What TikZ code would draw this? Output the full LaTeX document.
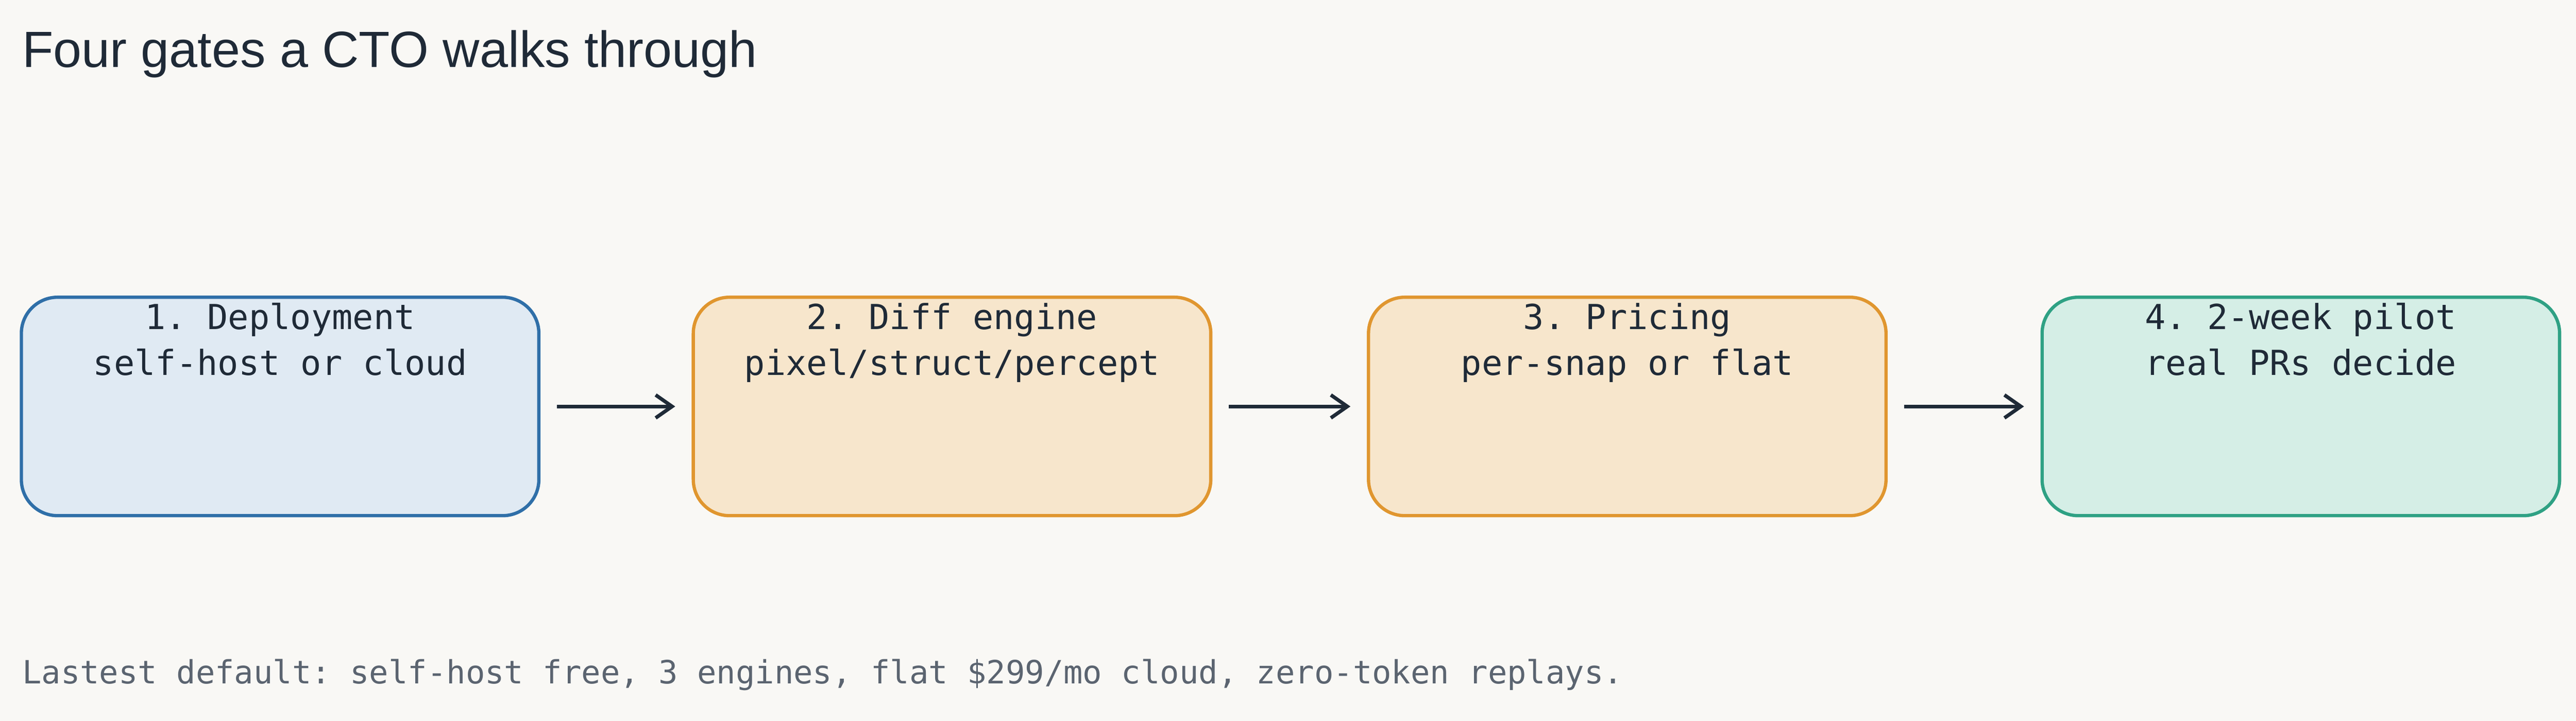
\documentclass[tikz,border=0pt]{standalone}
\usepackage{fontspec}
\setmainfont{Liberation Sans}
\setmonofont{DejaVu Sans Mono}
\usetikzlibrary{arrows.meta}
\definecolor{bg}{HTML}{F9F8F5}
\definecolor{ink}{HTML}{1F2A37}
\definecolor{gray}{HTML}{5B6470}
\definecolor{bf}{HTML}{E0EAF3}\definecolor{bs}{HTML}{2F6FA8}
\definecolor{of}{HTML}{F7E6CC}\definecolor{os}{HTML}{E0962F}
\definecolor{gf}{HTML}{D5EEE6}\definecolor{gs}{HTML}{2FA184}
\begin{document}
\begin{tikzpicture}[x=1pt,y=-1pt,
 box/.style={draw,line width=2pt,rounded corners=22pt,minimum width=315pt,minimum height=133pt,anchor=north west},
 lbl/.style={font=\ttfamily\fontsize{21}{28}\selectfont,text=ink,align=center,anchor=north},
 arr/.style={-{Straight Barb[length=10pt,width=14pt]},line width=2.2pt,draw=ink}]
\fill[bg] (0,0) rectangle (1568,439);
\useasboundingbox (0,0) rectangle (1568,439);
\node[anchor=west,text=ink,font=\fontsize{31}{33}\selectfont] (title) at (10,33) {Four gates a CTO walks through};
\node[box,fill=bf,draw=bs] (b1) at (12,180) {};
\node[box,fill=of,draw=os] (b2) at (421,180) {};
\node[box,fill=of,draw=os] (b3) at (832,180) {};
\node[box,fill=gf,draw=gs] (b4) at (1242,180) {};
\node[lbl] (t1) at ([yshift=-1pt]b1.north) {1. Deployment\\self-host or cloud};
\node[lbl] (t2) at ([yshift=-1pt]b2.north) {2. Diff engine\\pixel/struct/percept};
\node[lbl] (t3) at ([yshift=-1pt]b3.north) {3. Pricing\\per-snap or flat};
\node[lbl] (t4) at ([yshift=-1pt]b4.north) {4. 2-week pilot\\real PRs decide};
\draw[arr] ([xshift=10pt]b1.east) -- ([xshift=-10pt]b2.west);
\draw[arr] ([xshift=10pt]b2.east) -- ([xshift=-10pt]b3.west);
\draw[arr] ([xshift=10pt]b3.east) -- ([xshift=-10pt]b4.west);
\node[anchor=west,text=gray,font=\ttfamily\fontsize{19.5}{22}\selectfont] (foot) at (10,411) {Lastest default: self-host free, 3 engines, flat \$299/mo cloud, zero-token replays.};
\end{tikzpicture}
\end{document}
